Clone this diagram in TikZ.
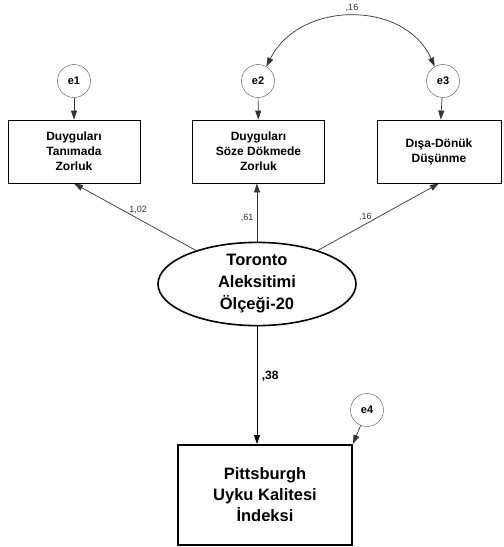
\documentclass[tikz,border=0pt]{standalone}
\usepackage{fontspec}
\setmainfont{Liberation Sans}
\usetikzlibrary{arrows.meta,shapes.geometric}

\begin{document}
\begin{tikzpicture}[x=1pt,y=-1pt,>={Triangle[length=9pt,width=6pt]},
    obsbox/.style={draw,line width=0.9pt,minimum width=132pt,minimum height=63pt,align=center,font=\bfseries\fontsize{12}{15}\selectfont},
    errc/.style={draw,black!70,circle,minimum size=33pt,inner sep=0pt,text=black,font=\bfseries\fontsize{11}{12}\selectfont},
    path/.style={->,black!80,line width=0.7pt},
    coef/.style={font=\fontsize{9}{10}\selectfont}]
        \useasboundingbox (0,0) rectangle (504,547);

        % error terms
        \node[errc] (e1) at (74,81) {e1};
        \node[errc] (e2) at (258,81) {e2};
        \node[errc] (e3) at (443,81) {e3};
        \node[errc] (e4) at (367,410) {e4};

        % observed variables
        \node[obsbox] (tan) at (74,151.5) {Duyguları\\Tanımada\\Zorluk};
        \node[obsbox] (soz) at (258.5,151.5) {Duyguları\\Söze Dökmede\\Zorluk};
        \node[obsbox,minimum width=124pt] (dis) at (439,151.5) {Dışa-Dönük\\Düşünme};

        % latent variable
        \node[draw,ellipse,line width=1.6pt,minimum width=198pt,minimum height=82pt,inner sep=0pt,align=center,
            font=\bfseries\fontsize{16.5}{22}\selectfont] (tas) at (257,284) {Toronto\\Aleksitimi\\Ölçeği-20};

        % outcome
        \node[draw,line width=2pt,minimum width=174pt,minimum height=100pt,align=center,
            font=\bfseries\fontsize{16.5}{21}\selectfont] (puk) at (265,495) {Pittsburgh\\Uyku Kalitesi\\İndeksi};

        \draw[path] (e1) -- (tan);
        \draw[path] (e2) -- (soz);
        \draw[path] (e3) -- (dis);
        \draw[path] (e4) -- (puk.north east);

        \draw[path] (tas) -- (tan.south) node[coef,pos=0.6,right=3pt] {1,02};
        \draw[path] (tas.north) -- (tas.north |- soz.south) node[coef,pos=0.4,left=0pt] {,61};
        \draw[path] (tas) -- (dis.south) node[coef,pos=0.5,left=3pt] {,16};
        \draw[->,line width=1pt] (tas.south) -- (tas.south |- puk.north)
            node[pos=0.42,right=1pt,font=\bfseries\fontsize{12}{13}\selectfont] {,38};

        % covariance
        \draw[<->,black!80,line width=0.7pt] (e2.60) .. controls (300,0) and (405,0) .. (e3.120)
            node[coef,pos=0.5,above=1pt] {,16};
    \end{tikzpicture}
\end{document}
